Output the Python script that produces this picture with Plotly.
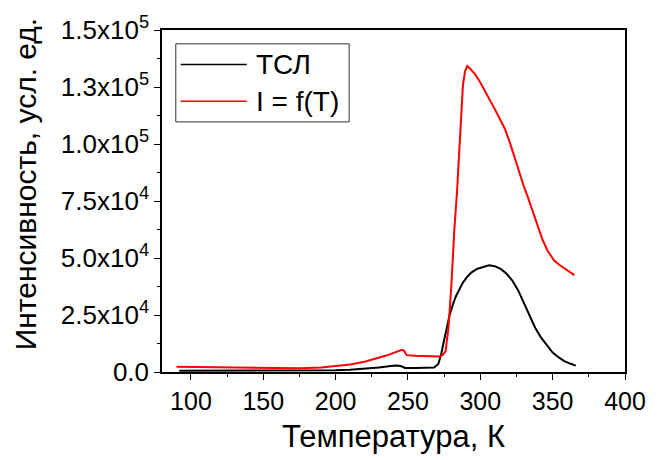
import plotly.graph_objects as go

# ТСЛ (black)
tsl_x = [92, 100, 120, 140, 160, 180, 200, 210, 220, 230, 238, 242, 245, 248, 255, 262, 268,
         271, 273, 275, 277, 279, 281, 283, 285, 288, 291, 294, 298, 302, 306, 310, 314, 318,
         322, 326, 330, 334, 338, 342, 346, 350, 354, 358, 362, 366]
tsl_y = [500, 500, 500, 500, 500, 600, 800, 1000, 1400, 2000, 2600, 2900, 2600, 1800, 1700, 1700, 2000,
         3500, 8000, 14000, 20000, 25500, 29500, 33000, 35500, 39200, 41800, 43700, 45300, 46200, 46800,
         46400, 45200, 43200, 40200, 36000, 30200, 24400, 19300, 15100, 11600, 8500, 6500, 4800, 3700, 2800]

# I = f(T) (red)
ift_x = [90, 100, 120, 140, 160, 175, 190, 200, 210, 220, 228, 235, 240, 244, 246, 247.5, 249,
         255, 262, 268, 272, 274, 276, 278, 280, 282, 284, 286, 288, 289.5, 291, 293, 296.5, 300,
         303.3, 306.5, 310, 313.5, 317, 320.5, 324, 327, 330.5, 333, 336, 340, 343, 346.5, 349,
         351, 355, 358, 361, 363, 365]
ift_y = [2300, 2200, 2100, 2000, 1800, 1600, 2000, 2500, 3300, 4500, 5800, 7200, 8400, 9500, 9700, 9200, 7400,
         7100, 7000, 6700, 6800, 7500, 9200, 19500, 38000, 62000, 80000, 103000, 126000, 132000, 134200, 133000,
         130500, 127000, 123300, 119500, 115300, 111000, 106600, 100500, 93600, 87000, 80600, 76500, 71000,
         63000, 58000, 53200, 50500, 48900, 46800, 45500, 44200, 43300, 42500]

series_names = ["ТСЛ", "I = f(T)"]
series_colors = ["black", "red"]

y_tickvals = [0, 25000, 50000, 75000, 100000, 125000, 150000]
y_ticktext = ["0.0", "2.5x10<sup>4</sup>", "5.0x10<sup>4</sup>", "7.5x10<sup>4</sup>",
              "1.0x10<sup>5</sup>", "1.3x10<sup>5</sup>", "1.5x10<sup>5</sup>"]
x_tickvals = [100, 150, 200, 250, 300, 350, 400]

fig = go.Figure()
for xs, ys, nm, col in [(tsl_x, tsl_y, series_names[0], series_colors[0]),
                        (ift_x, ift_y, series_names[1], series_colors[1])]:
    fig.add_trace(go.Scatter(x=xs, y=ys, mode="lines", name=nm,
                             line=dict(color=col, width=2), showlegend=False))

font = "Liberation Sans, Arial, sans-serif"

# custom legend (long line samples like the original)
W, H, L, T = 470.0, 346.0, 162.0, 27.0
def px(x): return (x - L) / W
def py(y): return (T + H - y) / H
shapes = [dict(type="rect", xref="paper", yref="paper", x0=px(176), x1=px(352), y0=py(120), y1=py(41),
               line=dict(color="#333", width=1), fillcolor="white", layer="above")]
annotations = []
for i, (nm, col) in enumerate(zip(series_names, series_colors)):
    yy = [62, 99][i]
    shapes.append(dict(type="line", xref="paper", yref="paper", x0=px(181), x1=px(248),
                       y0=py(yy), y1=py(yy), line=dict(color=col, width=1.5), layer="above"))
    annotations.append(dict(text=nm, xref="paper", yref="paper", x=px(255), y=py(yy),
                            xanchor="left", yanchor="middle", showarrow=False,
                            font=dict(size=28, family=font, color="black")))
# y-axis title, placed like the original (slightly above center)
annotations.append(dict(text="Интенсивность, усл. ед.", xref="paper", yref="paper",
                        x=px(23), y=py(183), xanchor="center", yanchor="middle",
                        textangle=-90, showarrow=False,
                        font=dict(size=30, family=font, color="black")))

fig.update_layout(
    width=658, height=460,
    margin=dict(l=162, r=26, t=27, b=87),
    paper_bgcolor="white", plot_bgcolor="white",
    font=dict(family=font, size=22, color="black"),
    showlegend=False,
    shapes=shapes, annotations=annotations,
    xaxis=dict(range=[80, 400], tickvals=x_tickvals, showline=True, linecolor="black",
               linewidth=1.5, mirror=True, ticks="outside", ticklen=6, tickwidth=1,
               tickcolor="black", showgrid=False, zeroline=False,
               minor=dict(dtick=25, tick0=0, ticks="outside", ticklen=3, tickcolor="black"),
               tickfont=dict(size=25),
               title=dict(text="Температура, К", font=dict(size=31), standoff=12)),
    yaxis=dict(range=[0, 150000], tickvals=y_tickvals, ticktext=y_ticktext, showline=True,
               linecolor="black", linewidth=1.5, mirror=True, ticks="outside", ticklen=6,
               tickwidth=1, tickcolor="black", showgrid=False, zeroline=False,
               minor=dict(dtick=12500, tick0=0, ticks="outside", ticklen=3, tickcolor="black"),
               tickfont=dict(size=26)),
)

fig.write_html("out.html")
